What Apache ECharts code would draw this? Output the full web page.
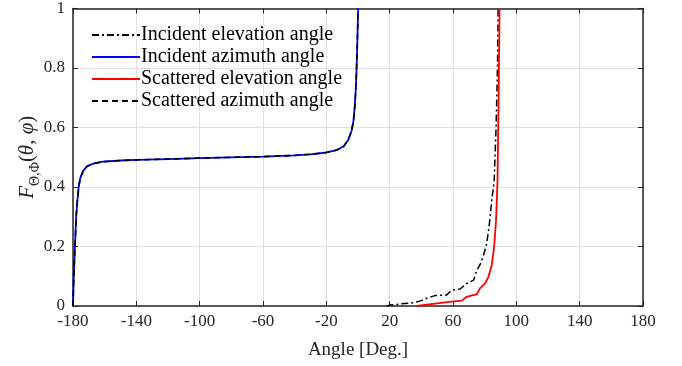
<!DOCTYPE html>
<html>
<head>
<meta charset="utf-8">
<script src="https://cdn.jsdelivr.net/npm/echarts@6/dist/echarts.min.js"></script>
<style>
  html, body { margin: 0; padding: 0; background: #fff; }
  #chart { width: 682px; height: 366px; }
</style>
</head>
<body>
<div id="chart"></div>
<script>
const echarts = window.echarts

// x ticks (deg) and y ticks
const angleTicks = [-180, -140, -100, -60, -20, 20, 60, 100, 140, 180]
const cdfTicks = [0, 0.2, 0.4, 0.6, 0.8, 1]

const seriesNames = [
  'Incident elevation angle',
  'Incident azimuth angle',
  'Scattered elevation angle',
  'Scattered azimuth angle'
]

// incident elevation (dash-dot)
const incElAngle = [18, 20, 27, 35, 40, 43.5, 48.5, 56, 59, 64.5, 68.5, 73, 75, 77, 79, 81.3, 83, 84.5, 86, 87.2, 88.1, 88.5]
const incElCdf = [0, 0.003, 0.007, 0.011, 0.018, 0.026, 0.035, 0.037, 0.053, 0.057, 0.075, 0.087, 0.12, 0.138, 0.165, 0.21, 0.277, 0.356, 0.42, 0.6, 0.8, 1]

// incident azimuth (blue)
const incAzAngle = [-180, -179.6, -179.2, -178.6, -178, -177.3, -176.4, -175.4, -173.5, -171, -167, -161, -150, -140, -120, -100, -87, -60, -40, -30, -20, -13.5, -9, -6, -4, -2.8, -1.9, -1.2, -0.6, 0.1]
const incAzCdf = [0, 0.08, 0.14, 0.22, 0.3, 0.35, 0.4, 0.43, 0.455, 0.47, 0.479, 0.485, 0.489, 0.491, 0.494, 0.497, 0.499, 0.502, 0.506, 0.51, 0.516, 0.524, 0.537, 0.56, 0.59, 0.625, 0.68, 0.75, 0.85, 1]

// scattered elevation (red)
const scElAngle = [37, 50, 59, 65.5, 68.7, 72, 75, 77, 80.3, 82.4, 84.5, 86, 87.2, 88.1, 88.8, 89.4]
const scElCdf = [0, 0.009, 0.015, 0.018, 0.031, 0.036, 0.039, 0.059, 0.076, 0.098, 0.138, 0.2, 0.29, 0.42, 0.7, 1]

// scattered azimuth (dashed) - lies on top of the incident azimuth curve
const scAzAngle = [-180, -179.6, -179.2, -178.6, -178, -177.3, -176.4, -175.4, -173.5, -171, -167, -161, -150, -140, -120, -100, -87, -60, -40, -30, -20, -13.5, -9, -6, -4, -2.8, -1.9, -1.2, -0.6, 0.1]
const scAzCdf = [0, 0.08, 0.14, 0.22, 0.3, 0.35, 0.4, 0.43, 0.455, 0.47, 0.479, 0.485, 0.489, 0.491, 0.494, 0.497, 0.499, 0.502, 0.506, 0.51, 0.516, 0.524, 0.537, 0.56, 0.59, 0.625, 0.68, 0.75, 0.85, 1]

const pairs = (xs, ys) => xs.map((x, i) => [x, ys[i]])

const FONT = 'Liberation Serif'
const axisColor = '#262626'
const gridColor = '#e0e0e0'

const xAxisBase = {
  type: 'value',
  min: -180,
  max: 180,
  axisLine: { show: true, onZero: false, lineStyle: { color: axisColor, width: 1.5 } },
  axisTick: { show: true, inside: true, length: 5, customValues: angleTicks, lineStyle: { color: axisColor, width: 1 } },
  splitLine: { show: false }
}

const yAxisBase = {
  type: 'value',
  min: 0,
  max: 1,
  interval: 0.2,
  axisLine: { show: true, onZero: false, lineStyle: { color: axisColor, width: 1.5 } },
  axisTick: { show: true, inside: true, length: 5, lineStyle: { color: axisColor, width: 1 } },
  splitLine: { show: false }
}

const line = function (name, data, color, type, width) {
  return {
    name: name,
    type: 'line',
    data: data,
    showSymbol: false,
    symbol: 'none',
    animation: false,
    lineStyle: { color: color, width: width, type: type },
    itemStyle: { color: color }
  }
}

const chart = echarts.init(document.getElementById('chart'))
chart.setOption({
  animation: false,
  backgroundColor: '#fff',
  textStyle: { fontFamily: FONT },
  grid: { left: 73, right: 39, top: 8, bottom: 60 },
  legend: {
    orient: 'vertical',
    left: 86,
    top: 20,
    itemWidth: 48,
    itemHeight: 10,
    itemGap: 2,
    data: seriesNames,
    itemStyle: { opacity: 0 },
    textStyle: { fontFamily: FONT, fontSize: 20, color: '#000', padding: [0, 0, 0, -4] }
  },
  xAxis: [
    Object.assign({}, xAxisBase, {
      position: 'bottom',
      name: 'Angle [Deg.]',
      nameLocation: 'middle',
      nameGap: 35,
      nameTextStyle: { fontFamily: FONT, fontSize: 19, color: '#262626' },
      axisLabel: { customValues: angleTicks, fontFamily: FONT, fontSize: 17, color: '#262626', margin: 7 },
      splitLine: { show: true, lineStyle: { color: gridColor, width: 1 } }
    }),
    Object.assign({}, xAxisBase, { position: 'top', axisLabel: { show: false } })
  ],
  yAxis: [
    Object.assign({}, yAxisBase, {
      position: 'left',
      name: '{f|F}{s|Θ,Φ}{p|(}{f|θ}{p|, }{f|φ}{p|)}',
      nameLocation: 'middle',
      nameGap: 31,
      nameMoveOverlap: false,
      nameTextStyle: {
        color: '#262626',
        rich: {
          f: { fontFamily: FONT, fontStyle: 'italic', fontSize: 21, color: '#262626' },
          p: { fontFamily: FONT, fontSize: 21, color: '#262626' },
          s: { fontFamily: FONT, fontSize: 14, color: '#262626', verticalAlign: 'bottom', lineHeight: 30 }
        }
      },
      axisLabel: { fontFamily: FONT, fontSize: 17, color: '#262626', margin: 8 },
      splitLine: { show: true, lineStyle: { color: gridColor, width: 1 } }
    }),
    Object.assign({}, yAxisBase, { position: 'right', axisLabel: { show: false } })
  ],
  series: [
    line(seriesNames[0], pairs(incElAngle, incElCdf), '#000000', [7, 3, 2, 3], 1.5),
    line(seriesNames[1], pairs(incAzAngle, incAzCdf), '#0000ff', 'solid', 1.8),
    line(seriesNames[2], pairs(scElAngle, scElCdf), '#ff0000', 'solid', 1.8),
    line(seriesNames[3], pairs(scAzAngle, scAzCdf), '#000000', [6, 4], 1.6)
  ]
})
</script>
</body>
</html>
